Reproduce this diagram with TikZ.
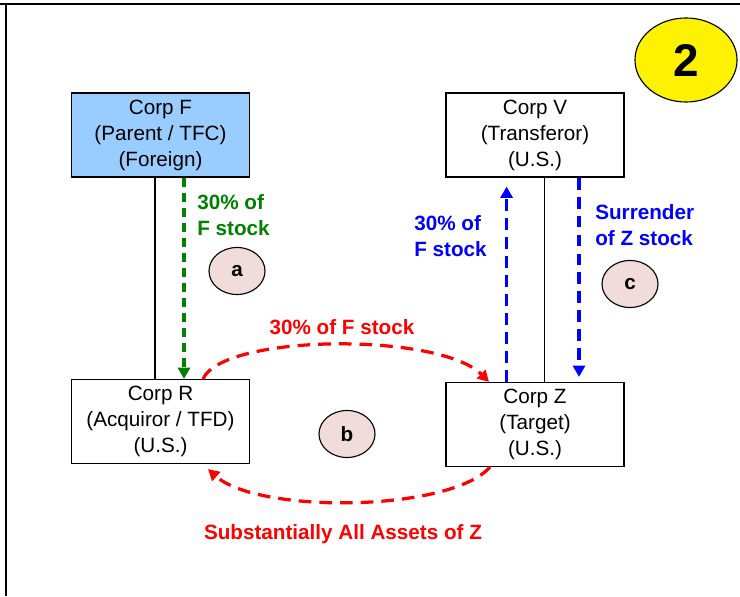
\documentclass[tikz,border=0pt]{standalone}
\usepackage{fontspec}
\setmainfont{Liberation Sans}
\usepackage{xcolor}
\usetikzlibrary{arrows.meta,shapes.geometric}

\definecolor{parentblue}{HTML}{99CCFF}
\definecolor{flowgreen}{HTML}{008000}
\definecolor{flowred}{HTML}{FF0000}
\definecolor{flowblue}{HTML}{0000FF}
\definecolor{steppink}{HTML}{F2DCDB}

\tikzset{
  corp/.style={draw, line width=0.8pt, minimum width=4.45cm, minimum height=2.1cm,
    inner sep=0pt, align=center, font=\fontsize{14.7}{18.5}\selectfont},
  flowtext/.style={inner sep=0pt, align=left, font=\fontsize{14.7}{18.5}\selectfont\bfseries},
  stepmark/.style={ellipse, draw, line width=0.8pt, fill=steppink, minimum width=1.4cm,
    minimum height=1.175cm, inner sep=0pt, font=\fontsize{14.7}{18.5}\selectfont\bfseries},
  flow/.style={line width=2.3pt, -{Triangle[length=8pt,width=8.5pt]}},
  greenflow/.style={flow, flowgreen, dash pattern=on 6.4pt off 4.3pt},
  blueflow/.style={flow, flowblue, dash pattern=on 8.5pt off 5pt},
  redflow/.style={flow, flowred, dash pattern=on 9pt off 5.7pt}
}

\begin{document}
\begin{tikzpicture}[x=0.025cm, y=-0.025cm]
  \useasboundingbox (0,0) rectangle (740,596);
  \draw[line width=1.5pt] (0,3.7) -- (740,3.7);
  \draw[line width=1.5pt] (5.7,3.7) -- (5.7,596);

  \node[corp, fill=parentblue] (F) at (160.5,135) {Corp F\\(Parent / TFC)\\(Foreign)};
  \node[corp] (V) at (535,135) {Corp V\\(Transferor)\\(U.S.)};
  \node[corp] (R) at (160.5,421.5) {Corp R\\(Acquiror / TFD)\\(U.S.)};
  \node[corp] (Z) at (535,424.5) {Corp Z\\(Target)\\(U.S.)};

  \node[ellipse, draw, line width=0.8pt, fill=yellow, minimum width=2.55cm, minimum height=2.1cm,
    inner sep=0pt, font=\fontsize{32.6}{36}\selectfont\bfseries] (two) at (686,60) {2};

  \draw[line width=0.8pt] ([xshift=-0.1375cm]F.south) -- ([xshift=-0.1375cm]R.north);
  \draw[line width=0.8pt] ([xshift=0.2325cm]V.south) -- ([xshift=0.2325cm]Z.north);

  \draw[greenflow] ([xshift=0.5875cm]F.south) -- ([xshift=0.5875cm]R.north);
  \draw[blueflow] ([xshift=-0.71cm]Z.north) -- ([xshift=-0.71cm, yshift=-0.225cm]V.south);
  \draw[blueflow] ([xshift=1.1cm]V.south) -- ([xshift=1.1cm, yshift=0.125cm]Z.north);
  \draw[redflow] ([xshift=1.0625cm]R.north) .. controls +(20,-45) and +(-50,-50) .. ([xshift=-1.15cm]Z.north);
  \draw[redflow] ([xshift=-1.125cm]Z.south) .. controls +(-40,45) and +(50,45) .. ([xshift=1.1875cm, yshift=-0.125cm]R.south);

  \node[flowtext, text=flowgreen, anchor=west] (fstock) at (197,215) {30\% of\\F stock};
  \node[flowtext, text=flowblue, anchor=west] (vstock) at (414,236.5) {30\% of\\F stock};
  \node[flowtext, text=flowblue, anchor=west] (zstock) at (595,225) {Surrender\\of Z stock};
  \node[flowtext, text=flowred] (rstock) at (342,327) {30\% of F stock};
  \node[flowtext, text=flowred] (assets) at (343,534) {Substantially All Assets of Z};

  \node[stepmark] (a) at (237,271) {a};
  \node[stepmark] (b) at (347,434) {b};
  \node[stepmark] (c) at (630,284) {c};
\end{tikzpicture}
\end{document}
